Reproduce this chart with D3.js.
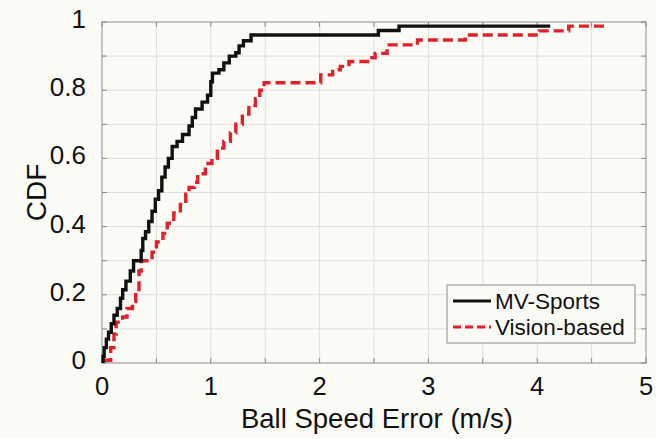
<!DOCTYPE html>
<html>
<head>
<meta charset="utf-8">
<script src="https://cdn.jsdelivr.net/npm/d3@7"></script>
<style>
  html, body { margin: 0; padding: 0; background: #fcfcf7; }
  svg { display: block; }
  text { font-family: Arial, "Liberation Sans", sans-serif; fill: #111; }
</style>
</head>
<body>
<svg id="chart" width="656" height="439"></svg>
<script>
// Axis ticks
const xTicks = [0, 1, 2, 3, 4, 5];
const yTicks = [0, 0.2, 0.4, 0.6, 0.8, 1];
const yTickLabels = ["0", "0.2", "0.4", "0.6", "0.8", "1"];
const seriesNames = ["MV-Sports", "Vision-based"];

// Empirical CDF steps: the CDF jumps to y[i] at error x[i] (m/s)
const mvX = [0.01, 0.01, 0.02, 0.04, 0.06, 0.085, 0.11, 0.14, 0.17, 0.19, 0.22, 0.26, 0.29,
             0.36, 0.375, 0.40, 0.43, 0.46, 0.49, 0.52, 0.55, 0.58, 0.61, 0.645, 0.69, 0.74,
             0.80, 0.83, 0.86, 0.92, 0.97, 1.00, 1.015, 1.075, 1.12, 1.17, 1.23, 1.26, 1.30,
             1.37, 2.54, 2.73, 4.12];
const mvY = [0.0, 0.02, 0.045, 0.07, 0.09, 0.115, 0.14, 0.16, 0.19, 0.215, 0.24, 0.27, 0.30,
             0.33, 0.365, 0.385, 0.415, 0.445, 0.48, 0.505, 0.545, 0.575, 0.60, 0.635, 0.65, 0.67,
             0.695, 0.72, 0.745, 0.765, 0.785, 0.825, 0.85, 0.86, 0.88, 0.90, 0.91, 0.93, 0.945,
             0.962, 0.975, 0.988, 0.988];

const visX = [0.01, 0.08, 0.11, 0.13, 0.19, 0.23, 0.28, 0.31, 0.34, 0.36, 0.46, 0.50, 0.56,
              0.60, 0.66, 0.72, 0.77, 0.80, 0.85, 0.88, 0.95, 1.01, 1.06, 1.12, 1.18, 1.23,
              1.29, 1.35, 1.41, 1.45, 1.49, 2.01, 2.12, 2.19, 2.27, 2.48, 2.51, 2.62, 2.64,
              2.90, 3.34, 4.02, 4.29, 4.65];
const visY = [0.008, 0.045, 0.085, 0.12, 0.135, 0.16, 0.18, 0.21, 0.27, 0.30, 0.325, 0.355, 0.38,
              0.41, 0.44, 0.465, 0.495, 0.515, 0.53, 0.555, 0.585, 0.60, 0.63, 0.65, 0.675, 0.70,
              0.73, 0.755, 0.775, 0.80, 0.822, 0.845, 0.86, 0.87, 0.884, 0.895, 0.908, 0.915, 0.933,
              0.947, 0.962, 0.974, 0.988, 0.988];

const W = 656, H = 439;
const margin = { left: 102, right: 10, top: 22, bottom: 76 };
const svg = d3.select("#chart");

const x = d3.scaleLinear().domain([0, 5]).range([margin.left, W - margin.right]);
const y = d3.scaleLinear().domain([0, 1]).range([H - margin.bottom, margin.top]);

const gridColor = "#dedede", axisColor = "#8a8a8a";

// grid
const xGrid = d3.range(0.5, 5, 0.5);
const yGrid = d3.range(1, 10).map(d => d / 10);
svg.append("g").selectAll("line").data(xGrid).join("line")
  .attr("x1", d => x(d)).attr("x2", d => x(d))
  .attr("y1", y(0)).attr("y2", y(1))
  .attr("stroke", gridColor).attr("stroke-width", 1);
svg.append("g").selectAll("line").data(yGrid).join("line")
  .attr("x1", x(0)).attr("x2", x(5))
  .attr("y1", d => y(d)).attr("y2", d => y(d))
  .attr("stroke", gridColor).attr("stroke-width", 1);

// inward ticks on all four sides
const tl = 5;
const xAll = d3.range(0, 5.01, 0.5), yAll = d3.range(0, 11).map(d => d / 10);
const tickG = svg.append("g").attr("stroke", axisColor).attr("stroke-width", 1);
xAll.forEach(d => {
  tickG.append("line").attr("x1", x(d)).attr("x2", x(d)).attr("y1", y(0)).attr("y2", y(0) - tl);
  tickG.append("line").attr("x1", x(d)).attr("x2", x(d)).attr("y1", y(1)).attr("y2", y(1) + tl);
});
yAll.forEach(d => {
  tickG.append("line").attr("x1", x(0)).attr("x2", x(0) + tl).attr("y1", y(d)).attr("y2", y(d));
  tickG.append("line").attr("x1", x(5)).attr("x2", x(5) - tl).attr("y1", y(d)).attr("y2", y(d));
});

// box
svg.append("rect")
  .attr("x", x(0)).attr("y", y(1))
  .attr("width", x(5) - x(0)).attr("height", y(0) - y(1))
  .attr("fill", "none").attr("stroke", axisColor).attr("stroke-width", 1);

// tick labels
svg.append("g").selectAll("text").data(xTicks).join("text")
  .attr("x", d => x(d)).attr("y", y(0) + 32)
  .attr("text-anchor", "middle").attr("font-size", 25.5)
  .text(d => d);
svg.append("g").selectAll("text").data(yTicks).join("text")
  .attr("x", x(0) - 16).attr("y", d => y(d) + 6)
  .attr("text-anchor", "end").attr("font-size", 26)
  .text((d, i) => yTickLabels[i]);

// axis titles
svg.append("text")
  .attr("x", 377).attr("y", 428)
  .attr("text-anchor", "middle").attr("font-size", 27.5)
  .text("Ball Speed Error (m/s)");
svg.append("text")
  .attr("transform", `translate(46,${(y(0) + y(1)) / 2}) rotate(-90)`)
  .attr("text-anchor", "middle").attr("font-size", 28)
  .text("CDF");

// CDF curves
const line = d3.line().x(d => x(d[0])).y(d => y(d[1])).curve(d3.curveStepAfter);
const series = [
  { name: seriesNames[0], pts: d3.zip(mvX, mvY), color: "#111111", dash: null },
  { name: seriesNames[1], pts: d3.zip(visX, visY), color: "#e0202a", dash: "10,5" }
];
series.slice().reverse().forEach(s => {
  svg.append("path")
    .attr("d", line(s.pts))
    .attr("fill", "none").attr("stroke", s.color)
    .attr("stroke-width", 3.4)
    .attr("stroke-dasharray", s.dash);
});

// legend
const lg = svg.append("g");
lg.append("rect").attr("x", 447).attr("y", 285).attr("width", 188).attr("height", 58)
  .attr("fill", "#fcfcf7").attr("stroke", axisColor).attr("stroke-width", 1);
series.forEach((s, i) => {
  const cy = 301 + i * 26;
  lg.append("line").attr("x1", 453).attr("x2", 491).attr("y1", cy).attr("y2", cy)
    .attr("stroke", s.color).attr("stroke-width", 3.2)
    .attr("stroke-dasharray", s.dash ? "8,4" : null);
  lg.append("text").attr("x", 495).attr("y", cy + 8).attr("font-size", 22.5).text(s.name);
});
</script>
</body>
</html>
